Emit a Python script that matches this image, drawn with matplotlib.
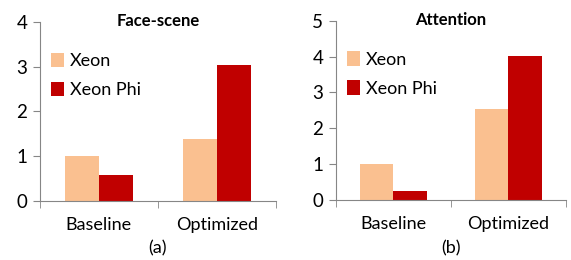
import numpy as np
from matplotlib import pyplot as plt

plt.rcParams['font.family'] = ['Lato', 'DejaVu Sans']

categories = ['Baseline', 'Optimized']
series = ['Xeon', 'Xeon Phi']
face_xeon = [1.0, 1.38]
face_phi = [0.57, 3.03]
att_xeon = [1.0, 2.53]
att_phi = [0.24, 4.02]
colors = ['#FAC090', '#C00000']

fig = plt.figure(figsize=(5.71, 2.6), dpi=100)
ax1 = fig.add_axes([0.070, 0.228, 0.413, 0.687])
ax2 = fig.add_axes([0.588, 0.232, 0.403, 0.688])

panels = [(ax1, face_xeon, face_phi, 'Face-scene', 4, '(a)'),
          (ax2, att_xeon, att_phi, 'Attention', 5, '(b)')]

x = np.arange(len(categories))
w = 0.29
for ax, xeon, phi, title, ymax, lab in panels:
    ax.bar(x - w/2, xeon, w, color=colors[0], label=series[0])
    ax.bar(x + w/2, phi, w, color=colors[1], label=series[1])
    ax.set_xlim(-0.5, 1.5)
    ax.set_ylim(0, ymax)
    ax.set_yticks(range(ymax + 1))
    ax.set_xticks(x)
    ax.set_xticklabels(categories)
    ax.set_xticks([-0.5, 0.5, 1.5], minor=True)
    ax.tick_params(axis='x', which='major', length=0, pad=12, labelsize=13)
    ax.tick_params(axis='x', which='minor', length=5, color='#868686')
    ax.tick_params(axis='y', length=5, color='#868686', labelsize=13.5, pad=4)
    for s in ['top', 'right']:
        ax.spines[s].set_visible(False)
    for s in ['left', 'bottom']:
        ax.spines[s].set_color('#868686')
    ax.set_title(title, fontsize=12, fontweight='bold', y=0.93)
    fig.text(0.5 * (ax.get_position().x0 + ax.get_position().x1), 12 / 260, lab,
             ha='center', va='center', fontsize=13)
    ax.legend(loc='upper left', bbox_to_anchor=(0.0, 0.89), frameon=False, fontsize=13,
              handlelength=0.75, handleheight=0.85, handletextpad=0.3, labelspacing=0.7,
              borderaxespad=0.2)

fig.savefig('out.png', dpi=100)
